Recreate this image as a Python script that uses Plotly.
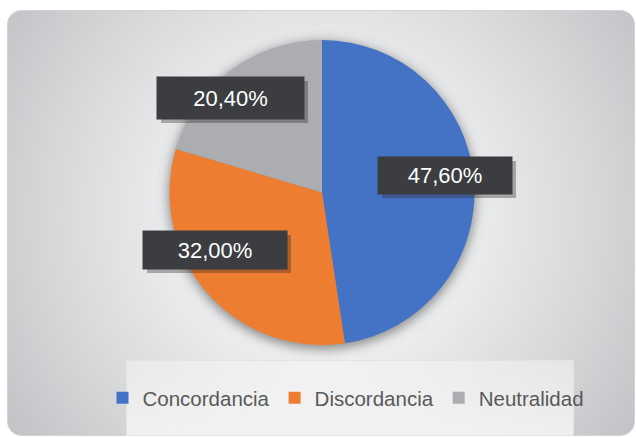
import base64
import plotly.graph_objects as go

# ---- data ----
categories = ["Concordancia", "Discordancia", "Neutralidad"]
values = [47.6, 32.0, 20.4]

# ---- style ----
colors = ["#4472C4", "#ED7D31", "#ACADB0"]
W, H = 636, 437
cx, cy, r = 322, 192.5, 152.5
# label box centres (px) and sizes (px), per category
label_center = [(445, 175.5), (215, 250), (230.5, 98)]
label_size = [(134, 37), (144, 38), (147, 42)]
FONT = "Liberation Sans, Arial, sans-serif"

svg = f'''<svg xmlns="http://www.w3.org/2000/svg" width="{W}" height="{H}" viewBox="0 0 {W} {H}">
<defs>
<radialGradient id="bg" cx="322" cy="215" r="400" gradientUnits="userSpaceOnUse">
<stop offset="0" stop-color="#F8F8F9"/>
<stop offset="0.35" stop-color="#EDEEEF"/>
<stop offset="0.7" stop-color="#D5D6D8"/>
<stop offset="1" stop-color="#BDBFC2"/>
</radialGradient>
<linearGradient id="lg" x1="0" y1="0" x2="0" y2="1">
<stop offset="0" stop-color="#F4F4F4" stop-opacity="0.55"/>
<stop offset="1" stop-color="#F8F8F8" stop-opacity="0.8"/>
</linearGradient>
<filter id="blur" x="-30%" y="-30%" width="160%" height="160%"><feGaussianBlur stdDeviation="6"/></filter>
</defs>
<rect x="0" y="0" width="{W}" height="{H}" fill="#FFFFFF"/>
<rect x="7.5" y="10.5" width="627" height="425" rx="14" ry="14" fill="url(#bg)" stroke="#D2D3D5" stroke-width="1"/>
<circle cx="{cx}" cy="{cy+3}" r="{r+1}" fill="#58585A" fill-opacity="0.7" filter="url(#blur)"/>
<rect x="126.5" y="360.5" width="447" height="75" fill="url(#lg)" stroke="#E2E3E4" stroke-width="1"/>
</svg>'''
src = "data:image/svg+xml;base64," + base64.b64encode(svg.encode()).decode()

fig = go.Figure()
fig.add_trace(go.Pie(
    labels=categories,
    values=values,
    sort=False,
    direction="clockwise",
    rotation=0,
    marker=dict(colors=colors, line=dict(width=0)),
    textinfo="none",
    hoverinfo="skip",
    domain=dict(x=[(cx - r) / W, (cx + r) / W], y=[(H - cy - r) / H, (H - cy + r) / H]),
))

annotations = []
shapes = []
for v, (px, py), (bw, bh) in zip(values, label_center, label_size):
    txt = f"{v:.2f}".replace(".", ",") + "%"
    # drop shadow of the label box
    shapes.append(dict(type="rect", xref="paper", yref="paper", layer="above",
                       x0=(px - bw / 2 + 4) / W, x1=(px + bw / 2 + 4) / W,
                       y0=1 - (py + bh / 2 + 4) / H, y1=1 - (py - bh / 2 + 4) / H,
                       fillcolor="rgba(50,40,40,0.35)", line=dict(width=0)))
    annotations.append(dict(text=txt, xref="paper", yref="paper", x=px / W, y=1 - py / H,
                            xanchor="center", yanchor="middle", showarrow=False,
                            width=bw - 2, height=bh - 2, borderpad=1,
                            font=dict(family=FONT, size=22, color="#FFFFFF"),
                            bgcolor="#3B3D40"))

fig.update_layout(
    width=W, height=H,
    margin=dict(l=0, r=0, t=0, b=0),
    paper_bgcolor="#FFFFFF",
    plot_bgcolor="rgba(0,0,0,0)",
    images=[dict(source=src, xref="paper", yref="paper", x=0, y=1, sizex=1, sizey=1,
                 xanchor="left", yanchor="top", sizing="stretch", layer="below")],
    showlegend=True,
    legend=dict(orientation="h", x=346 / W, xanchor="center", y=(H - 398) / H, yanchor="middle",
                font=dict(family=FONT, size=20.5, color="#595959"),
                bgcolor="rgba(0,0,0,0)", itemwidth=30, itemclick=False, itemdoubleclick=False),
    annotations=annotations,
    shapes=shapes,
)

fig.write_html("out.html", config={"displayModeBar": False},
               post_script="document.body.style.margin='0';document.body.style.overflow='hidden';")
